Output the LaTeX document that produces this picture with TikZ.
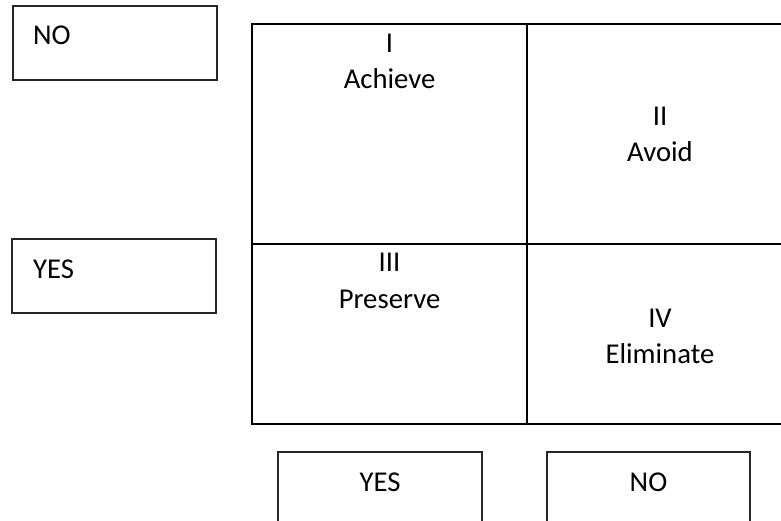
\documentclass[tikz,border=0pt]{standalone}
\usepackage{fontspec}
\setmainfont{Carlito}
\begin{document}
\begin{tikzpicture}[x=1pt,y=-1pt,
  sidebox/.style={draw=black!85,line width=1.3pt,fill=none},
  gridline/.style={draw=black,line width=2pt},
  lbl/.style={inner sep=0pt,anchor=base,font=\fontsize{28.7}{35}\selectfont},
  lbll/.style={inner sep=0pt,anchor=base west,font=\fontsize{28.7}{35}\selectfont}]
\useasboundingbox (0,0) rectangle (781,521);
\clip (0,0) rectangle (781,521);
% left boxes
\draw[sidebox] (13,6) rectangle (217,80);
\node[lbll] (noL) at (33,45) {NO};
\draw[sidebox] (12,239) rectangle (216,313);
\node[lbll] (yesL) at (33,278) {YES};
% grid
\draw[gridline] (252,24) rectangle (795,424);
\draw[gridline] (527,24) -- (527,424);
\draw[gridline] (252,244) -- (795,244);
% quadrant labels
\node[lbl] (q1n) at (389.5,53) {I};
\node[lbl] (q1t) at (389.5,89) {Achieve};
\node[lbl] (q2n) at (660,126) {II};
\node[lbl] (q2t) at (660,162) {Avoid};
\node[lbl] (q3n) at (389.5,272) {III};
\node[lbl] (q3t) at (389.5,308) {Preserve};
\node[lbl] (q4n) at (660,327) {IV};
\node[lbl] (q4t) at (660,363) {Eliminate};
% bottom boxes
\draw[sidebox] (278,452) rectangle (482,560);
\node[lbl] (yesB) at (380,491.5) {YES};
\draw[sidebox] (547,452) rectangle (750,560);
\node[lbl] (noB) at (648.5,491.5) {NO};
\end{tikzpicture}
\end{document}
